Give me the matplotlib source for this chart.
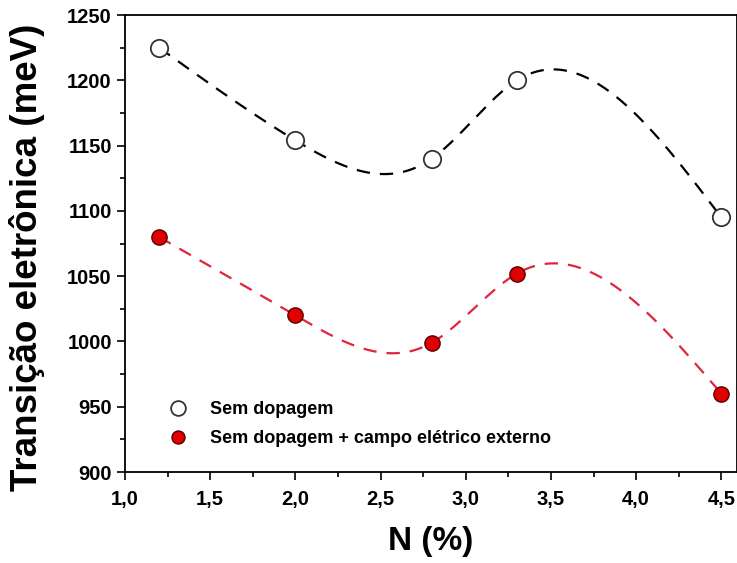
import numpy as np
import matplotlib.pyplot as plt
from matplotlib.ticker import MultipleLocator, FuncFormatter

plt.rcParams['font.family'] = ['Liberation Sans', 'DejaVu Sans']
plt.rcParams['font.weight'] = 'bold'

n_pct = [1.2, 2.0, 2.8, 3.3, 4.5]
sem_dopagem = [1225, 1154, 1140, 1200, 1095]
sem_dopagem_campo = [1080, 1020, 999, 1052, 960]


def natural_spline(x, y, num=300):
    # natural cubic spline through the points, just for drawing the dashed guide
    x = np.asarray(x, float)
    y = np.asarray(y, float)
    n = len(x)
    h = np.diff(x)
    A = np.zeros((n, n))
    b = np.zeros(n)
    A[0, 0] = A[-1, -1] = 1
    for i in range(1, n - 1):
        A[i, i - 1] = h[i - 1]
        A[i, i] = 2 * (h[i - 1] + h[i])
        A[i, i + 1] = h[i]
        b[i] = 3 * ((y[i + 1] - y[i]) / h[i] - (y[i] - y[i - 1]) / h[i - 1])
    c = np.linalg.solve(A, b)
    xs = np.linspace(x[0], x[-1], num)
    idx = np.clip(np.searchsorted(x, xs) - 1, 0, n - 2)
    dx = xs - x[idx]
    hi = h[idx]
    bb = (y[idx + 1] - y[idx]) / hi - hi * (2 * c[idx] + c[idx + 1]) / 3
    dd = (c[idx + 1] - c[idx]) / (3 * hi)
    ys = y[idx] + bb * dx + c[idx] * dx ** 2 + dd * dx ** 3
    return xs, ys


fig = plt.figure(figsize=(7.37, 5.63), dpi=100)
# axes box: x 125..737 px, y 15..472 px
ax = fig.add_axes([0.1696, 0.1616, 0.830, 0.8117])

xs, ys = natural_spline(n_pct, sem_dopagem)
ax.plot(xs, ys, color='black', linestyle=(0, (6, 4.5)), linewidth=1.6)
xs, ys = natural_spline(n_pct, sem_dopagem_campo)
ax.plot(xs, ys, color='#e0253c', linestyle=(0, (6, 4.5)), linewidth=1.6)

ax.plot(n_pct, sem_dopagem, 'o', markersize=12.5, markerfacecolor='white',
        markeredgecolor='#333333', markeredgewidth=1.3, linestyle='none',
        label='Sem dopagem')
ax.plot(n_pct, sem_dopagem_campo, 'o', markersize=11, markerfacecolor='#e00000',
        markeredgecolor='#5a0000', markeredgewidth=1.0, linestyle='none',
        label='Sem dopagem + campo elétrico externo')

ax.set_xlim(1.0, 4.59)
ax.set_ylim(900, 1250)
ax.xaxis.set_major_locator(MultipleLocator(0.5))
ax.xaxis.set_minor_locator(MultipleLocator(0.25))
ax.yaxis.set_major_locator(MultipleLocator(50))
ax.yaxis.set_minor_locator(MultipleLocator(25))
ax.xaxis.set_major_formatter(FuncFormatter(lambda v, p: f'{v:.1f}'.replace('.', ',')))
ax.tick_params(which='major', direction='out', length=6, width=1.2, labelsize=14.5)
ax.tick_params(axis='x', which='major', pad=7)
ax.tick_params(which='minor', direction='out', length=3.5, width=1.2)
for sp in ax.spines.values():
    sp.set_linewidth(1.3)

ax.set_xlabel('N (%)', fontsize=24, fontweight='bold')
ax.xaxis.set_label_coords(0.499, -0.118)
ax.set_ylabel('Transição eletrônica (meV)', fontsize=26.5, fontweight='bold')
ax.yaxis.set_label_coords(-0.131, 0.47)

ax.legend(loc='lower left', bbox_to_anchor=(0.043, 0.019), frameon=False,
          handletextpad=1.15, labelspacing=0.67, handlelength=1.2, markerscale=0.85,
          prop={'weight': 'bold', 'size': 13})

fig.savefig('out.png', dpi=100)
